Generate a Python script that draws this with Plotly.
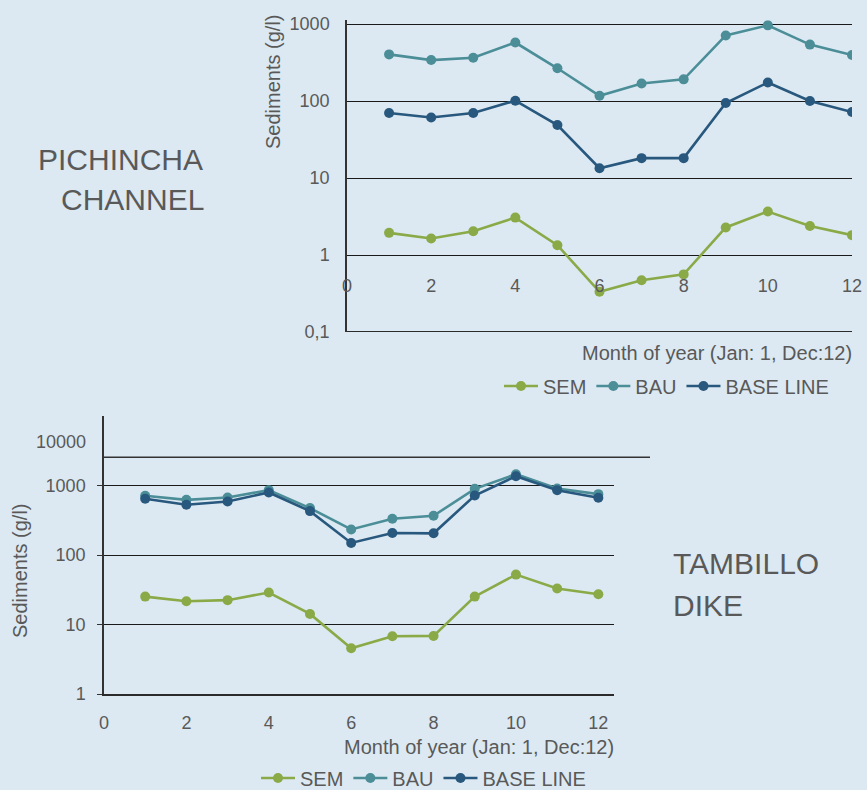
import plotly.graph_objects as go

W, H = 867, 790
def fx(px): return px / W
def fy(py): return 1 - py / H

months = list(range(1, 13))

# PICHINCHA CHANNEL (top chart)
pich_sem = [1.94, 1.64, 2.03, 3.06, 1.34, 0.333, 0.47, 0.56, 2.28, 3.67, 2.38, 1.81]
pich_bau = [403, 340, 364, 574, 266, 117, 169, 191, 710, 960, 540, 395]
pich_base = [70, 61, 70, 101, 48.7, 13.4, 18.1, 18.1, 94, 174, 100, 72]

# TAMBILLO DIKE (bottom chart)
tamb_sem = [25.2, 21.6, 22.4, 28.8, 14.2, 4.54, 6.78, 6.85, 25.2, 52.2, 32.9, 27.2]
tamb_bau = [711, 622, 673, 857, 473, 233, 332, 367, 896, 1455, 906, 751]
tamb_base = [644, 528, 589, 794, 428, 149, 207, 205, 718, 1361, 857, 665]

series_names = ["SEM", "BAU", "BASE LINE"]
colors = ["#8aaa48", "#4b8e98", "#28587e"]

top_y_ticks = [0.1, 1, 10, 100, 1000]
top_y_text = ["0,1", "1", "10", "100", "1000"]
bot_y_ticks = [1, 10, 100, 1000]
bot_y_text = ["1", "10", "100", "1000"]
x_ticks = [0, 2, 4, 6, 8, 10, 12]

BG = "#dce9f2"
TXT = "#595959"
FONT = "Liberation Sans"
FS = 18      # tick labels
FT = 20      # axis titles
FL = 20      # legend

fig = go.Figure()

for name, vals, c in zip(series_names, [pich_sem, pich_bau, pich_base], colors):
    fig.add_trace(go.Scatter(x=months, y=vals, name=name, mode="lines+markers",
                             line=dict(color=c, width=2.6), marker=dict(color=c, size=10),
                             xaxis="x", yaxis="y", legend="legend"))
for name, vals, c in zip(series_names, [tamb_sem, tamb_bau, tamb_base], colors):
    fig.add_trace(go.Scatter(x=months, y=vals, name=name, mode="lines+markers",
                             line=dict(color=c, width=2.6), marker=dict(color=c, size=10),
                             xaxis="x2", yaxis="y2", legend="legend2"))

# top chart: 0,1 at y=332px, 77 px per decade, range slightly above 1000
top_lo, top_hi = -1, 3.05
dec_px = 77
top_yd = [fy(332), fy(332 - dec_px * (top_hi - top_lo))]
top_xd = [fx(347), fx(852)]
bot_xd = [fx(104), fx(614)]
bot_yd = [fy(694), fy(416)]

# horizontal axis crosses the log axis at 1 (Excel style)
pos_one = top_yd[0] + (0 - top_lo) / (top_hi - top_lo) * (top_yd[1] - top_yd[0])

fig.update_layout(
    width=W, height=H, autosize=False,
    margin=dict(l=0, r=0, t=0, b=0, autoexpand=False),
    paper_bgcolor=BG, plot_bgcolor=BG,
    font=dict(family=FONT, size=FS, color=TXT),
    xaxis=dict(domain=top_xd, anchor="free", position=pos_one, range=[0, 12],
               tickvals=x_ticks, showgrid=False, zeroline=False, showline=False,
               ticks="outside", ticklen=14, tickcolor="rgba(0,0,0,0)",
               tickfont=dict(size=FS, color=TXT)),
    yaxis=dict(domain=top_yd, anchor="x", position=top_xd[0], type="log", range=[top_lo, top_hi],
               tickvals=top_y_ticks, ticktext=top_y_text, showgrid=True, gridcolor="#1a1a1a",
               gridwidth=1, zeroline=False, showline=True, linecolor="#333333", linewidth=1.5,
               ticks="", ticklabelstandoff=12, tickfont=dict(size=FS, color=TXT)),
    xaxis2=dict(domain=bot_xd, anchor="y2", range=[0, 12.38], tickvals=x_ticks, showgrid=False,
                zeroline=False, showline=True, linecolor="#2b2b2b", linewidth=2, ticks="",
                ticklabelstandoff=11, tickfont=dict(size=FS, color=TXT)),
    yaxis2=dict(domain=bot_yd, anchor="x2", type="log", range=[0, 4],
                tickvals=bot_y_ticks, ticktext=bot_y_text, showgrid=True, gridcolor="#1a1a1a",
                gridwidth=1, zeroline=False, showline=True, linecolor="#333333", linewidth=1.5,
                ticks="outside", ticklen=5, tickcolor="#333333", ticklabelstandoff=8,
                tickfont=dict(size=FS, color=TXT)),
    legend=dict(orientation="h", x=fx(499), y=fy(386), xanchor="left", yanchor="middle",
                bgcolor="rgba(0,0,0,0)", font=dict(size=FL, color=TXT), itemwidth=34,
                tracegroupgap=0),
    legend2=dict(orientation="h", x=fx(256), y=fy(778), xanchor="left", yanchor="middle",
                 bgcolor="rgba(0,0,0,0)", font=dict(size=FL, color=TXT), itemwidth=34,
                 tracegroupgap=0),
    showlegend=True,
)

# bottom border line of the top plot area (at 0,1)
fig.add_shape(type="line", xref="x domain", yref="y", x0=0, x1=1, y0=0.1, y1=0.1,
              line=dict(color="#2b2b2b", width=2))
# odd extra horizontal line in the bottom chart (above 1000)
fig.add_shape(type="line", xref="paper", yref="y2", x0=fx(104), x1=fx(650), y0=2550, y1=2550,
              line=dict(color="#333333", width=1.5))

ann = []
ann.append(dict(text="Sediments (g/l)", x=fx(273), y=fy(82), xref="paper", yref="paper",
                textangle=-90, showarrow=False, font=dict(size=FT, color=TXT),
                xanchor="center", yanchor="middle"))
ann.append(dict(text="Sediments (g/l)", x=fx(20), y=fy(571), xref="paper", yref="paper",
                textangle=-90, showarrow=False, font=dict(size=FT, color=TXT),
                xanchor="center", yanchor="middle"))
ann.append(dict(text="Month of year (Jan: 1, Dec:12)", x=fx(854), y=fy(353), xref="paper",
                yref="paper", showarrow=False, xanchor="right", yanchor="middle",
                font=dict(size=FT, color=TXT)))
ann.append(dict(text="Month of year (Jan: 1, Dec:12)", x=fx(616), y=fy(747), xref="paper",
                yref="paper", showarrow=False, xanchor="right", yanchor="middle",
                font=dict(size=FT, color=TXT)))
ann.append(dict(text="10000", x=fx(88), y=fy(442), xref="paper", yref="paper", showarrow=False,
                xanchor="right", yanchor="middle", font=dict(size=FS, color=TXT)))
for t, x, y in [("PICHINCHA", 36, 160), ("CHANNEL", 59, 199), ("TAMBILLO", 671, 563), ("DIKE", 671, 605)]:
    ann.append(dict(text=t, x=fx(x), y=fy(y), xref="paper", yref="paper", showarrow=False,
                    xanchor="left", yanchor="middle", font=dict(size=30, color=TXT)))
fig.update_layout(annotations=ann)

post = ("document.documentElement.style.margin='0';document.documentElement.style.padding='0';"
        "document.documentElement.style.overflow='hidden';"
        "document.body.style.margin='0';document.body.style.padding='0';"
        "document.body.style.overflow='hidden';document.body.style.background='" + BG + "';")
fig.write_html("out.html", config={"displayModeBar": False, "responsive": False}, post_script=post)
